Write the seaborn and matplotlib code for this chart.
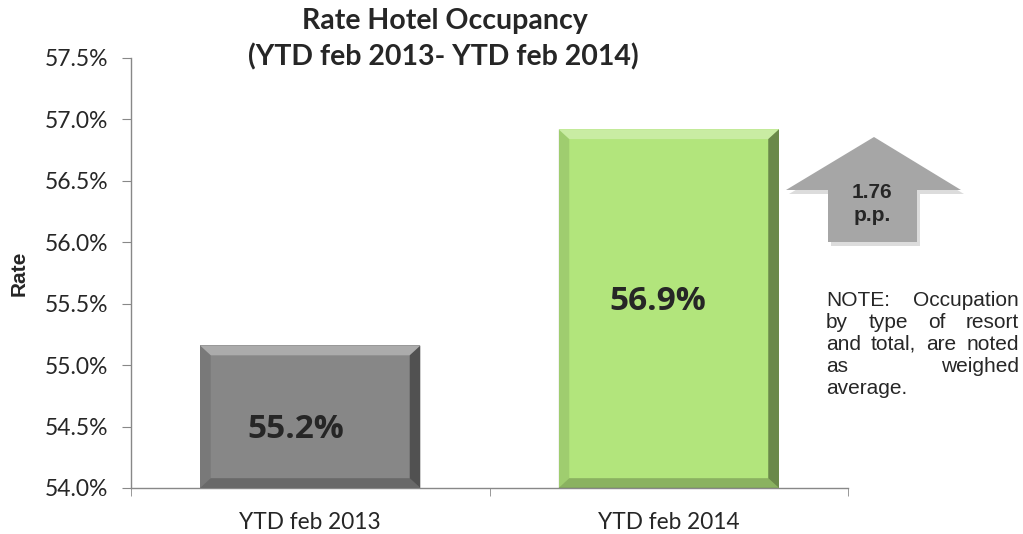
import matplotlib
matplotlib.use('Agg')
import matplotlib.pyplot as plt
import seaborn as sns
from matplotlib.patches import Polygon
from matplotlib.ticker import FuncFormatter, FixedLocator

periods = ['YTD feb 2013', 'YTD feb 2014']
rates = [55.16, 56.92]
bar_labels = ['55.2%', '56.9%']
bar_colors = ['#878787', '#b2e57c']
change_label = ['1.76', 'p.p.']
title_lines = ['Rate Hotel Occupancy', '(YTD feb 2013- YTD feb 2014)']
note_lines = ['NOTE: Occupation', 'by type of resort', 'and total, are noted', 'as weighed', 'average.']

sns.set_style('white')
plt.rcParams['font.family'] = ['Lato', 'DejaVu Sans']

W, H = 1023, 534
fig = plt.figure(figsize=(W / 100, H / 100), dpi=100)
ax = fig.add_axes([131 / W, 1 - 488 / H, (848 - 131) / W, (488 - 58) / H])

sns.barplot(x=periods, y=rates, hue=periods, palette=bar_colors, legend=False,
            width=0.615, ax=ax, linewidth=0, saturation=1)

ax.set_ylim(54.0, 57.5)
ax.set_xlim(-0.5, 1.5)
ax.yaxis.set_major_locator(FixedLocator([54.0 + 0.5 * i for i in range(8)]))
ax.yaxis.set_major_formatter(FuncFormatter(lambda v, p: f'{v:.1f}%'))
ax.tick_params(axis='y', labelsize=16.5, length=6.5, color='#888888', left=True, pad=10)
ax.tick_params(axis='x', labelsize=16.3, length=0, pad=17)
ax.set_xticks([-0.5, 0.5, 1.5], minor=True)
ax.tick_params(axis='x', which='minor', length=6, color='#888888', bottom=True)
for s in ['top', 'right']:
    ax.spines[s].set_visible(False)
for s in ['left', 'bottom']:
    ax.spines[s].set_color('#888888')
    ax.spines[s].set_linewidth(1)

ax.set_ylabel('Rate', fontsize=15, fontweight='bold', family=['Liberation Sans'])
ax.yaxis.set_label_coords(-0.143, 0.5)
ax.set_xlabel('')

# title, two lines
fig.text(445 / W, 1 - 29 / H, title_lines[0], ha='center', va='baseline', fontsize=20.5, fontweight='bold')
fig.text(443 / W, 1 - 65 / H, title_lines[1], ha='center', va='baseline', fontsize=20.5, fontweight='bold')

# bevel effect on each bar
dx, dy = 0.03, 0.08
for i, p in enumerate(ax.patches):
    x0, x1 = p.get_x(), p.get_x() + p.get_width()
    y0, y1 = 54.0, p.get_y() + p.get_height()
    bevels = [
        ([(x0, y1), (x1, y1), (x1 - dx, y1 - dy), (x0 + dx, y1 - dy)], 'white', 0.3),
        ([(x1, y1), (x1, y0), (x1 - dx, y0 + dy), (x1 - dx, y1 - dy)], 'black', 0.4),
        ([(x0, y0), (x1, y0), (x1 - dx, y0 + dy), (x0 + dx, y0 + dy)], 'black', 0.22),
        ([(x0, y1), (x0, y0), (x0 + dx, y0 + dy), (x0 + dx, y1 - dy)], 'black', 0.1),
    ]
    for pts, c, a in bevels:
        ax.add_patch(Polygon(pts, closed=True, facecolor=c, alpha=a, edgecolor='none', zorder=3))

ax.text(0 - 0.04, 54.48, bar_labels[0], ha='center', va='center', fontsize=24, fontweight='bold',
        family=['Open Sans', 'DejaVu Sans'], zorder=4)
ax.text(1 - 0.03, 55.52, bar_labels[1], ha='center', va='center', fontsize=24, fontweight='bold',
        family=['Open Sans', 'DejaVu Sans'], zorder=4)

# up arrow with the change
def fpt(x, y):
    return (x / W, 1 - y / H)

arrow_px = [(874, 137), (961, 190), (917, 190), (917, 242), (828, 242), (828, 190), (786, 190)]
shadow = Polygon([fpt(x + 3, y + 4) for x, y in arrow_px], closed=True, facecolor='#bbbbbb',
                 alpha=0.5, edgecolor='none', transform=fig.transFigure)
fig.add_artist(shadow)
arrow = Polygon([fpt(x, y) for x, y in arrow_px], closed=True, facecolor='#a6a6a6',
                edgecolor='none', transform=fig.transFigure)
fig.add_artist(arrow)
fig.text(872 / W, 1 - 198 / H, change_label[0], ha='center', va='baseline', fontsize=15,
         fontweight='bold', family=['Liberation Sans'])
fig.text(872 / W, 1 - 221 / H, change_label[1], ha='center', va='baseline', fontsize=15,
         fontweight='bold', family=['Liberation Sans'])

# justified note text
renderer = fig.canvas.get_renderer()
left_px, right_px = 826, 1019
for k, line in enumerate(note_lines):
    y = 1 - (300 + k * 22) / H
    words = line.split()
    last = k == len(note_lines) - 1
    if len(words) == 1 or last:
        fig.text(left_px / W, y, line, ha='left', va='center', fontsize=15, family=['Liberation Sans'])
        continue
    arts = [fig.text(0, y, w, ha='left', va='center', fontsize=15, family=['Liberation Sans']) for w in words]
    widths = [a.get_window_extent(renderer).width for a in arts]
    gap = (right_px - left_px - sum(widths)) / (len(words) - 1)
    xpos = left_px
    for a, w in zip(arts, widths):
        a.set_x(xpos / W)
        xpos += w + gap

fig.savefig('out.png', dpi=100)
